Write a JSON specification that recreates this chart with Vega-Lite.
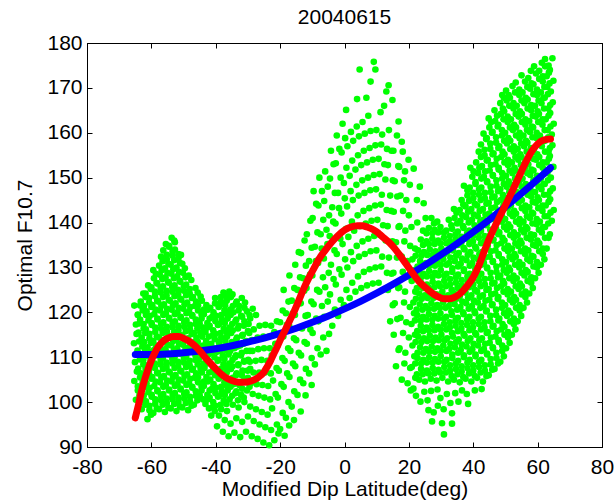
{
"$schema":"https://vega.github.io/schema/vega-lite/v6.json",
"width":515,"height":404,
"autosize":"none",
"padding":{"left":87,"top":43,"right":12,"bottom":53},
"background":"white",
"title":{"text":"20040615","fontSize":21,"font":"Liberation Sans","fontWeight":"normal","color":"black","offset":4},
"config":{"font":"Liberation Sans","view":{"stroke":"black","strokeWidth":1},
"axis":{"grid":false,"domainColor":"black","tickColor":"black","labelColor":"black","titleColor":"black","labelFont":"Liberation Sans","titleFont":"Liberation Sans","labelFontSize":21,"titleFontSize":21,"titleFontWeight":"normal","tickSize":-5,"labelFlush":false,"labelOverlap":false}},
"datasets":{
"pts":[
{"x":-64.8,"y":100.5},{"x":-64.2,"y":102.6},{"x":-65.3,"y":104.7},{"x":-64.5,"y":106.8},{"x":-65.1,"y":108.9},{"x":-64.3,"y":111},{"x":-65.4,"y":113.1},{"x":-64.6,"y":115.2},{"x":-64.8,"y":117.3},{"x":-64.2,"y":119.4},{"x":-65.3,"y":121.5},
{"x":-63,"y":98.4},{"x":-62.4,"y":100.4},{"x":-63.5,"y":102.4},{"x":-62.7,"y":104.4},{"x":-63.3,"y":106.4},{"x":-62.5,"y":108.4},{"x":-63.6,"y":110.4},{"x":-62.8,"y":112.4},{"x":-63,"y":114.4},{"x":-62.4,"y":116.4},{"x":-63.5,"y":118.4},{"x":-62.7,"y":120.4},{"x":-63.3,"y":122.4},{"x":-62.5,"y":124.2},
{"x":-61.2,"y":96.2},{"x":-60.6,"y":98.2},{"x":-61.7,"y":100.2},{"x":-60.9,"y":102.2},{"x":-61.5,"y":104.2},{"x":-60.7,"y":106.2},{"x":-61.8,"y":108.2},{"x":-61,"y":110.2},{"x":-61.2,"y":112.2},{"x":-60.6,"y":114.2},{"x":-61.7,"y":116.2},{"x":-60.9,"y":118.2},{"x":-61.5,"y":120.2},{"x":-60.7,"y":122.2},{"x":-61.8,"y":124.2},{"x":-61,"y":126},
{"x":-59.4,"y":97.6},{"x":-58.8,"y":99.6},{"x":-59.9,"y":101.6},{"x":-59.1,"y":103.6},{"x":-59.7,"y":105.6},{"x":-58.9,"y":107.6},{"x":-60,"y":109.6},{"x":-59.2,"y":111.6},{"x":-59.4,"y":113.6},{"x":-58.8,"y":115.6},{"x":-59.9,"y":117.6},{"x":-59.1,"y":119.6},{"x":-59.7,"y":121.6},{"x":-58.9,"y":123.6},{"x":-60,"y":125.6},{"x":-59.2,"y":127.6},{"x":-59.4,"y":129.4},
{"x":-57.6,"y":98.4},{"x":-57,"y":100.4},{"x":-58.1,"y":102.4},{"x":-57.3,"y":104.4},{"x":-57.9,"y":106.4},{"x":-57.1,"y":108.4},{"x":-58.2,"y":110.4},{"x":-57.4,"y":112.4},{"x":-57.6,"y":114.4},{"x":-57,"y":116.4},{"x":-58.1,"y":118.4},{"x":-57.3,"y":120.4},{"x":-57.9,"y":122.4},{"x":-57.1,"y":124.4},{"x":-58.2,"y":126.4},{"x":-57.4,"y":128.4},{"x":-57.6,"y":130.4},{"x":-57,"y":132.4},
{"x":-55.8,"y":97.8},{"x":-55.2,"y":99.8},{"x":-56.3,"y":101.8},{"x":-55.5,"y":103.8},{"x":-56.1,"y":105.8},{"x":-55.3,"y":107.8},{"x":-56.4,"y":109.8},{"x":-55.6,"y":111.8},{"x":-55.8,"y":113.8},{"x":-55.2,"y":115.8},{"x":-56.3,"y":117.8},{"x":-55.5,"y":119.8},{"x":-56.1,"y":121.8},{"x":-55.3,"y":123.8},{"x":-56.4,"y":125.8},{"x":-55.6,"y":127.8},{"x":-55.8,"y":129.8},{"x":-55.2,"y":131.8},{"x":-56.3,"y":133.8},{"x":-55.5,"y":135.2},
{"x":-54,"y":98.6},{"x":-53.4,"y":100.6},{"x":-54.5,"y":102.6},{"x":-53.7,"y":104.6},{"x":-54.3,"y":106.6},{"x":-53.5,"y":108.6},{"x":-54.6,"y":110.6},{"x":-53.8,"y":112.6},{"x":-54,"y":114.6},{"x":-53.4,"y":116.6},{"x":-54.5,"y":118.6},{"x":-53.7,"y":120.6},{"x":-54.3,"y":122.6},{"x":-53.5,"y":124.6},{"x":-54.6,"y":126.6},{"x":-53.8,"y":128.6},{"x":-54,"y":130.6},{"x":-53.4,"y":132.6},{"x":-54.5,"y":134.6},{"x":-53.7,"y":136.6},
{"x":-52.2,"y":98},{"x":-51.6,"y":100},{"x":-52.7,"y":102},{"x":-51.9,"y":104},{"x":-52.5,"y":106},{"x":-51.7,"y":108},{"x":-52.8,"y":110},{"x":-52,"y":112},{"x":-52.2,"y":114},{"x":-51.6,"y":116},{"x":-52.7,"y":118},{"x":-51.9,"y":120},{"x":-52.5,"y":122},{"x":-51.7,"y":124},{"x":-52.8,"y":126},{"x":-52,"y":128},{"x":-52.2,"y":130},{"x":-51.6,"y":132},{"x":-52.7,"y":134},{"x":-52.9,"y":136},
{"x":-50.4,"y":98.8},{"x":-49.8,"y":100.8},{"x":-50.9,"y":102.8},{"x":-50.1,"y":104.8},{"x":-50.7,"y":106.8},{"x":-49.9,"y":108.8},{"x":-51,"y":110.8},{"x":-50.2,"y":112.8},{"x":-50.4,"y":114.8},{"x":-49.8,"y":116.8},{"x":-50.9,"y":118.8},{"x":-50.1,"y":120.8},{"x":-50.7,"y":122.8},{"x":-49.9,"y":124.8},{"x":-51,"y":126.8},{"x":-50.2,"y":128.8},{"x":-50.4,"y":130.8},{"x":-50.8,"y":132.8},
{"x":-48.6,"y":98.2},{"x":-48,"y":100.2},{"x":-49.1,"y":102.2},{"x":-48.3,"y":104.2},{"x":-48.9,"y":106.2},{"x":-48.1,"y":108.2},{"x":-49.2,"y":110.2},{"x":-48.4,"y":112.2},{"x":-48.6,"y":114.2},{"x":-48,"y":116.2},{"x":-49.1,"y":118.2},{"x":-48.3,"y":120.2},{"x":-48.9,"y":122.2},{"x":-48.1,"y":124.2},{"x":-49.2,"y":126.2},{"x":-48.4,"y":128.2},
{"x":-46.8,"y":99.4},{"x":-46.2,"y":101.4},{"x":-47.3,"y":103.4},{"x":-46.5,"y":105.4},{"x":-47.1,"y":107.4},{"x":-46.3,"y":109.4},{"x":-47.4,"y":111.4},{"x":-46.6,"y":113.4},{"x":-46.8,"y":115.4},{"x":-46.2,"y":117.4},{"x":-47.3,"y":119.4},{"x":-46.5,"y":121.4},{"x":-47.1,"y":123.4},{"x":-46.3,"y":125.4},
{"x":-45,"y":101.5},{"x":-44.4,"y":103.5},{"x":-45.5,"y":105.5},{"x":-44.7,"y":107.5},{"x":-45.3,"y":109.5},{"x":-44.5,"y":111.5},{"x":-45.6,"y":113.5},{"x":-44.8,"y":115.5},{"x":-45,"y":117.5},{"x":-44.4,"y":119.5},{"x":-45.5,"y":121.5},{"x":-44.7,"y":123.5},
{"x":-43.2,"y":99.6},{"x":-42.6,"y":101.6},{"x":-43.7,"y":103.6},{"x":-42.9,"y":105.6},{"x":-43.5,"y":107.6},{"x":-42.7,"y":109.6},{"x":-43.8,"y":111.6},{"x":-43,"y":113.6},{"x":-43.2,"y":115.6},{"x":-42.6,"y":117.6},{"x":-43.7,"y":119.6},{"x":-42.9,"y":121.6},
{"x":-41.4,"y":97},{"x":-40.8,"y":99},{"x":-41.9,"y":101},{"x":-41.1,"y":103},{"x":-41.7,"y":105},{"x":-40.9,"y":107},{"x":-42,"y":109},{"x":-41.2,"y":111},{"x":-41.4,"y":113},{"x":-40.8,"y":115},{"x":-41.9,"y":117},{"x":-41.1,"y":119},{"x":-41.7,"y":121},
{"x":-39.6,"y":94.6},{"x":-39,"y":97},{"x":-40.1,"y":99.2},{"x":-39.3,"y":101.2},{"x":-39.9,"y":103.2},{"x":-39.1,"y":105.2},{"x":-40.2,"y":107.2},{"x":-39.4,"y":109.2},{"x":-39.6,"y":111.2},{"x":-39,"y":113.2},{"x":-40.1,"y":115.2},{"x":-39.3,"y":117.2},{"x":-39.9,"y":119.2},{"x":-39.1,"y":121.2},{"x":-40.2,"y":123.2},
{"x":-37.8,"y":93.4},{"x":-37.2,"y":96},{"x":-38.3,"y":98.4},{"x":-37.5,"y":100.4},{"x":-38.1,"y":102.4},{"x":-37.3,"y":104.4},{"x":-38.4,"y":106.4},{"x":-37.6,"y":108.4},{"x":-37.8,"y":110.4},{"x":-37.2,"y":112.4},{"x":-38.3,"y":114.4},{"x":-37.5,"y":116.4},{"x":-38.1,"y":118.4},{"x":-37.3,"y":120.4},{"x":-38.4,"y":122.4},{"x":-37.6,"y":124.4},
{"x":-36,"y":92.4},{"x":-35.4,"y":95.2},{"x":-36.5,"y":98},{"x":-35.7,"y":100.6},{"x":-36.3,"y":102.6},{"x":-35.5,"y":104.6},{"x":-36.6,"y":106.6},{"x":-35.8,"y":108.6},{"x":-36,"y":110.6},{"x":-35.4,"y":112.6},{"x":-36.5,"y":114.6},{"x":-35.7,"y":116.6},{"x":-36.3,"y":118.6},{"x":-35.5,"y":120.6},{"x":-36.6,"y":122.6},{"x":-35.8,"y":124.6},
{"x":-34.2,"y":93.2},{"x":-33.6,"y":96.4},{"x":-34.7,"y":99.4},{"x":-33.9,"y":102},{"x":-34.5,"y":104},{"x":-33.7,"y":106},{"x":-34.8,"y":108},{"x":-34,"y":110},{"x":-34.2,"y":112},{"x":-33.6,"y":114},{"x":-34.7,"y":116},{"x":-33.9,"y":118},{"x":-34.5,"y":120},{"x":-33.7,"y":122},{"x":-34.8,"y":124},
{"x":-32.4,"y":92.2},{"x":-31.8,"y":95.6},{"x":-32.9,"y":98.8},{"x":-32.1,"y":101.6},{"x":-32.7,"y":103.8},{"x":-31.9,"y":106},{"x":-33,"y":108.2},{"x":-32.2,"y":110.4},{"x":-32.4,"y":112.6},{"x":-31.8,"y":114.8},{"x":-32.9,"y":117},{"x":-32.1,"y":119.2},{"x":-32.7,"y":121.4},{"x":-31.9,"y":123.2},
{"x":-30.6,"y":93.4},{"x":-30,"y":96.8},{"x":-31.1,"y":100},{"x":-30.3,"y":102.6},{"x":-30.9,"y":104.8},{"x":-30.1,"y":107},{"x":-31.2,"y":109.2},{"x":-30.4,"y":111.4},{"x":-30.6,"y":113.6},{"x":-30,"y":115.8},{"x":-31.1,"y":118},{"x":-30.3,"y":120.2},{"x":-30.9,"y":122.2},
{"x":-28.8,"y":92.4},{"x":-28.2,"y":95.8},{"x":-29.3,"y":99},{"x":-28.5,"y":101.8},{"x":-29.1,"y":104.2},{"x":-28.3,"y":106.6},{"x":-29.4,"y":109},{"x":-28.6,"y":111.4},{"x":-28.8,"y":113.8},{"x":-28.2,"y":116.2},{"x":-29.3,"y":118.6},{"x":-28.5,"y":120.8},
{"x":-27,"y":91.8},{"x":-26.4,"y":95},{"x":-27.5,"y":98.4},{"x":-26.7,"y":101.4},{"x":-27.3,"y":104},{"x":-26.5,"y":106.6},{"x":-27.6,"y":109.2},{"x":-26.8,"y":111.8},{"x":-27,"y":114.4},{"x":-26.4,"y":117},{"x":-27.5,"y":119.4},
{"x":-25.2,"y":91},{"x":-24.6,"y":94.4},{"x":-25.7,"y":97.8},{"x":-24.9,"y":101},{"x":-25.5,"y":103.8},{"x":-24.7,"y":106.6},{"x":-25.8,"y":109.4},{"x":-25,"y":112},{"x":-25.2,"y":114.6},{"x":-24.6,"y":117.2},
{"x":-23.4,"y":90.4},{"x":-22.8,"y":93.8},{"x":-23.9,"y":97.2},{"x":-23.1,"y":100.6},{"x":-23.7,"y":103.6},{"x":-22.9,"y":106.4},{"x":-24,"y":109.2},{"x":-23.2,"y":112},{"x":-23.4,"y":114.6},{"x":-22.8,"y":117},
{"x":-21.8,"y":91.5},{"x":-21,"y":95},{"x":-22.5,"y":98.6},{"x":-21.4,"y":101.8},{"x":-22.2,"y":104.8},{"x":-21.1,"y":107.6},{"x":-22.6,"y":110.4},{"x":-21.5,"y":113},{"x":-21.8,"y":115.6},{"x":-21,"y":118},
{"x":-20,"y":94},{"x":-19.2,"y":97.6},{"x":-20.7,"y":101},{"x":-19.6,"y":104},{"x":-20.4,"y":107},{"x":-19.3,"y":109.8},{"x":-20.8,"y":112.6},{"x":-19.7,"y":115.2},{"x":-20,"y":117.8},{"x":-19.2,"y":120.4},
{"x":-18.2,"y":96.5},{"x":-17.4,"y":100},{"x":-18.9,"y":103.4},{"x":-17.8,"y":106.4},{"x":-18.6,"y":109.2},{"x":-17.5,"y":112},{"x":-19,"y":114.6},{"x":-17.9,"y":117.2},{"x":-18.2,"y":119.8},{"x":-17.4,"y":122.4},{"x":-18.9,"y":125},
{"x":-16.4,"y":99},{"x":-15.6,"y":102.4},{"x":-17.1,"y":105.6},{"x":-16,"y":108.6},{"x":-16.8,"y":111.4},{"x":-15.7,"y":114.2},{"x":-17.2,"y":117},{"x":-16.1,"y":119.8},{"x":-16.4,"y":122.6},{"x":-15.6,"y":125.4},{"x":-17.1,"y":128.2},
{"x":-14.6,"y":101.6},{"x":-13.8,"y":105},{"x":-15.3,"y":108},{"x":-14.2,"y":111},{"x":-15,"y":113.8},{"x":-13.9,"y":116.6},{"x":-15.4,"y":119.4},{"x":-14.3,"y":122.2},{"x":-14.6,"y":125},{"x":-13.8,"y":127.8},{"x":-15.3,"y":130.6},{"x":-14.2,"y":133.4},
{"x":-12.8,"y":104.2},{"x":-12,"y":107.4},{"x":-13.5,"y":110.4},{"x":-12.4,"y":113.4},{"x":-13.2,"y":116.4},{"x":-12.1,"y":119.2},{"x":-13.6,"y":122},{"x":-12.5,"y":124.8},{"x":-12.8,"y":127.6},{"x":-12,"y":130.4},{"x":-13.5,"y":133.2},{"x":-12.4,"y":136},
{"x":-11,"y":106.4},{"x":-10.2,"y":109.8},{"x":-11.7,"y":113},{"x":-10.6,"y":116.2},{"x":-11.4,"y":119.4},{"x":-10.3,"y":122.4},{"x":-11.8,"y":125.4},{"x":-10.7,"y":128.4},{"x":-11,"y":131.4},{"x":-10.2,"y":134.4},{"x":-11.7,"y":137.4},{"x":-10.6,"y":140.4},
{"x":-9.2,"y":108.4},{"x":-8.4,"y":112},{"x":-9.9,"y":115.4},{"x":-8.8,"y":118.6},{"x":-9.6,"y":121.8},{"x":-8.5,"y":125},{"x":-10,"y":128.2},{"x":-8.9,"y":131.4},{"x":-9.2,"y":134.6},{"x":-8.4,"y":137.8},{"x":-9.9,"y":141},{"x":-8.8,"y":144.2},{"x":-9.6,"y":147},
{"x":-7.4,"y":110.6},{"x":-6.6,"y":114.4},{"x":-8.1,"y":118},{"x":-7,"y":121.4},{"x":-7.8,"y":124.6},{"x":-6.7,"y":127.8},{"x":-8.2,"y":131},{"x":-7.1,"y":134.2},{"x":-7.4,"y":137.4},{"x":-6.6,"y":140.6},{"x":-8.1,"y":143.8},{"x":-7,"y":147},{"x":-7.8,"y":150},
{"x":-5.6,"y":111.4},{"x":-4.8,"y":115.2},{"x":-6.3,"y":119},{"x":-5.2,"y":122.4},{"x":-6,"y":125.6},{"x":-4.9,"y":128.8},{"x":-6.4,"y":132},{"x":-5.3,"y":135.2},{"x":-5.6,"y":138.4},{"x":-4.8,"y":141.6},{"x":-6.3,"y":144.8},{"x":-5.2,"y":148},{"x":-6,"y":151.4},
{"x":-3.8,"y":117},{"x":-3,"y":120.6},{"x":-4.5,"y":124},{"x":-3.4,"y":127.4},{"x":-4.2,"y":130.6},{"x":-3.1,"y":133.8},{"x":-4.6,"y":137},{"x":-3.5,"y":140.2},{"x":-3.8,"y":143.4},{"x":-3,"y":146.6},{"x":-4.5,"y":149.8},{"x":-3.4,"y":153},{"x":-4.2,"y":156},
{"x":-2,"y":119.2},{"x":-1.2,"y":122.8},{"x":-2.7,"y":126.2},{"x":-1.6,"y":129.6},{"x":-2.4,"y":133},{"x":-1.3,"y":136.4},{"x":-2.8,"y":139.8},{"x":-1.7,"y":143.2},{"x":-2,"y":146.6},{"x":-1.2,"y":150},{"x":-2.7,"y":153.2},{"x":-1.6,"y":156.4},{"x":-2.4,"y":159.4},
{"x":-0.2,"y":121.6},{"x":0.6,"y":125},{"x":-0.9,"y":128.4},{"x":0.2,"y":131.8},{"x":-0.6,"y":135.2},{"x":0.5,"y":138.6},{"x":-1,"y":142},{"x":0.1,"y":145.4},{"x":-0.2,"y":148.8},{"x":0.6,"y":152.2},{"x":-0.9,"y":155.6},{"x":0.2,"y":158.8},{"x":-0.6,"y":162},{"x":0.5,"y":165.1},
{"x":1.6,"y":123.2},{"x":2.4,"y":126.6},{"x":0.9,"y":130},{"x":2,"y":133.4},{"x":1.2,"y":136.8},{"x":2.3,"y":140.2},{"x":0.8,"y":143.6},{"x":1.9,"y":147},{"x":1.6,"y":150.4},{"x":2.4,"y":153.8},{"x":0.9,"y":157},{"x":2,"y":160.2},
{"x":3.4,"y":124.6},{"x":4.2,"y":128},{"x":2.7,"y":131.4},{"x":3.8,"y":134.8},{"x":3,"y":138.2},{"x":4.1,"y":141.6},{"x":2.6,"y":145},{"x":3.7,"y":148.4},{"x":3.4,"y":151.8},{"x":4.2,"y":155},{"x":2.7,"y":158.2},{"x":3.8,"y":161.4},{"x":3.9,"y":167.5},
{"x":5.2,"y":125.4},{"x":6,"y":129},{"x":4.5,"y":132.4},{"x":5.6,"y":135.8},{"x":4.8,"y":139.2},{"x":5.9,"y":142.6},{"x":4.4,"y":146},{"x":5.5,"y":149.4},{"x":5.2,"y":152.8},{"x":6,"y":156},{"x":4.5,"y":159.2},{"x":5.6,"y":162.4},{"x":4.7,"y":174.1},
{"x":7,"y":126},{"x":7.8,"y":129.6},{"x":6.3,"y":133},{"x":7.4,"y":136.4},{"x":6.6,"y":139.8},{"x":7.7,"y":143.2},{"x":6.2,"y":146.6},{"x":7.3,"y":150},{"x":7,"y":153.4},{"x":7.8,"y":156.6},{"x":6.3,"y":159.8},{"x":7.4,"y":163.8},{"x":6.8,"y":167.8},
{"x":8.8,"y":126.4},{"x":9.6,"y":130},{"x":8.1,"y":133.6},{"x":9.2,"y":137},{"x":8.4,"y":140.4},{"x":9.5,"y":143.8},{"x":8,"y":147.2},{"x":9.1,"y":150.6},{"x":8.8,"y":154},{"x":9.6,"y":157.2},{"x":8.1,"y":160.4},{"x":8.1,"y":171.4},{"x":9.6,"y":174.1},{"x":9.1,"y":175.8},
{"x":10.6,"y":126.6},{"x":11.4,"y":130.2},{"x":9.9,"y":133.8},{"x":11,"y":137.2},{"x":10.2,"y":140.6},{"x":11.3,"y":144},{"x":9.8,"y":147.4},{"x":10.9,"y":150.8},{"x":10.6,"y":154.2},{"x":11.4,"y":157.4},{"x":9.9,"y":160.6},{"x":11.2,"y":164.6},
{"x":12.4,"y":125.2},{"x":13.2,"y":128.8},{"x":11.7,"y":132.4},{"x":12.8,"y":136},{"x":12,"y":139.4},{"x":13.1,"y":142.8},{"x":11.6,"y":146.2},{"x":12.7,"y":149.6},{"x":12.4,"y":153},{"x":13.2,"y":156.4},{"x":11.7,"y":159.6},{"x":12.3,"y":166},{"x":13,"y":169.2},
{"x":14.2,"y":118},{"x":15,"y":121.6},{"x":13.5,"y":125},{"x":14.6,"y":128.6},{"x":13.8,"y":132.2},{"x":14.9,"y":135.8},{"x":13.4,"y":139.2},{"x":14.5,"y":142.6},{"x":14.2,"y":146},{"x":15,"y":149.4},{"x":13.5,"y":152.8},{"x":14.6,"y":156},{"x":13.8,"y":160.6},{"x":14.9,"y":167.3},{"x":13.7,"y":170.6},
{"x":16,"y":108},{"x":16.8,"y":111.6},{"x":15.3,"y":115},{"x":16.4,"y":118.5},{"x":15.6,"y":122},{"x":16.7,"y":125.4},{"x":15.2,"y":128.8},{"x":16.3,"y":132.2},{"x":16,"y":135.6},{"x":16.8,"y":139},{"x":15.3,"y":142.4},{"x":16.4,"y":145.8},{"x":15.6,"y":149.2},{"x":16.7,"y":152.6},{"x":15.2,"y":156},{"x":16.3,"y":159.4},{"x":16.8,"y":162.5},
{"x":17.8,"y":105},{"x":18.6,"y":108.6},{"x":17.1,"y":112},{"x":18.2,"y":115.4},{"x":17.4,"y":118.8},{"x":18.5,"y":122.2},{"x":17,"y":125.6},{"x":18.1,"y":129},{"x":17.8,"y":132.4},{"x":18.6,"y":135.8},{"x":17.1,"y":139.2},{"x":18.2,"y":142.6},{"x":17.4,"y":146},{"x":18.5,"y":149.4},{"x":17,"y":152.4},{"x":18.1,"y":155.8},{"x":17.8,"y":158},
{"x":19.6,"y":104.2},{"x":20.4,"y":107.6},{"x":18.9,"y":111},{"x":20,"y":114.4},{"x":19.2,"y":117.8},{"x":20.3,"y":121.2},{"x":18.8,"y":124.6},{"x":19.9,"y":128},{"x":19.6,"y":131.4},{"x":20.4,"y":134.8},{"x":18.9,"y":138.2},{"x":20,"y":141.6},{"x":19.2,"y":145},{"x":20.3,"y":148.4},{"x":18.8,"y":151.4},{"x":19.9,"y":154},
{"x":-20.5,"y":93},{"x":-18.6,"y":92.5},{"x":-17.2,"y":94.8},{"x":-13.6,"y":97.9},{"x":-15.7,"y":96},{"x":-12.1,"y":101.5},{"x":-10.2,"y":103.8},
{"x":21.4,"y":103},{"x":22,"y":105.4},{"x":20.9,"y":107.8},{"x":21.7,"y":110.2},{"x":21.1,"y":112.6},{"x":21.9,"y":115},{"x":20.8,"y":117.4},{"x":21.6,"y":119.8},{"x":21.4,"y":122.2},{"x":22,"y":124.6},{"x":20.9,"y":127},{"x":21.7,"y":129.4},{"x":21.1,"y":131.8},{"x":21.9,"y":134.2},{"x":20.8,"y":139},{"x":22.5,"y":145},{"x":21.5,"y":152},
{"x":23.2,"y":105},{"x":23.8,"y":107.4},{"x":22.7,"y":109.8},{"x":23.5,"y":112.2},{"x":22.9,"y":114.6},{"x":23.7,"y":117},{"x":22.6,"y":119.4},{"x":23.4,"y":121.8},{"x":23.2,"y":124.2},{"x":23.8,"y":126.6},{"x":22.7,"y":129},{"x":23.5,"y":131.4},{"x":22.9,"y":133.8},{"x":23.7,"y":136.2},{"x":22.6,"y":140},{"x":23.4,"y":148},
{"x":25,"y":104.6},{"x":25.6,"y":107},{"x":24.5,"y":109.4},{"x":25.3,"y":111.8},{"x":24.7,"y":114.2},{"x":25.5,"y":116.6},{"x":24.4,"y":119},{"x":25.2,"y":121.4},{"x":25,"y":123.8},{"x":25.6,"y":126.2},{"x":24.5,"y":128.6},{"x":25.3,"y":131},{"x":24.7,"y":133.4},{"x":25.5,"y":135.8},{"x":24.4,"y":138.2},{"x":25.2,"y":141},{"x":24.6,"y":144.3},
{"x":26.8,"y":105.2},{"x":27.4,"y":107.6},{"x":26.3,"y":110},{"x":27.1,"y":112.4},{"x":26.5,"y":114.8},{"x":27.3,"y":117.2},{"x":26.2,"y":119.6},{"x":27,"y":122},{"x":26.8,"y":124.4},{"x":27.4,"y":126.8},{"x":26.3,"y":129.2},{"x":27.1,"y":131.6},{"x":26.5,"y":134},{"x":27.3,"y":136.4},{"x":26.2,"y":138.8},{"x":27,"y":141},
{"x":28.6,"y":104.8},{"x":29.2,"y":107.2},{"x":28.1,"y":109.6},{"x":28.9,"y":112},{"x":28.3,"y":114.4},{"x":29.1,"y":116.8},{"x":28,"y":119.2},{"x":28.8,"y":121.6},{"x":28.6,"y":124},{"x":29.2,"y":126.4},{"x":28.1,"y":128.8},{"x":28.9,"y":131.2},{"x":28.3,"y":133.6},{"x":29.1,"y":136},{"x":28,"y":138.4},{"x":28.8,"y":140.2},
{"x":30.4,"y":105.4},{"x":31,"y":107.8},{"x":29.9,"y":110.2},{"x":30.7,"y":112.6},{"x":30.1,"y":115},{"x":30.9,"y":117.4},{"x":29.8,"y":119.8},{"x":30.6,"y":122.2},{"x":30.4,"y":124.6},{"x":31,"y":127},{"x":29.9,"y":129.4},{"x":30.7,"y":131.8},{"x":30.1,"y":134.2},{"x":30.9,"y":136.6},{"x":29.8,"y":139},
{"x":32.2,"y":104.6},{"x":32.8,"y":107},{"x":31.7,"y":109.4},{"x":32.5,"y":111.8},{"x":31.9,"y":114.2},{"x":32.7,"y":116.6},{"x":31.6,"y":119},{"x":32.4,"y":121.4},{"x":32.2,"y":123.8},{"x":32.8,"y":126.2},{"x":31.7,"y":128.6},{"x":32.5,"y":131},{"x":31.9,"y":133.4},{"x":32.7,"y":135.8},{"x":31.6,"y":138.2},{"x":32.4,"y":140.6},
{"x":34,"y":105},{"x":34.6,"y":107.4},{"x":33.5,"y":109.8},{"x":34.3,"y":112.2},{"x":33.7,"y":114.6},{"x":34.5,"y":117},{"x":33.4,"y":119.4},{"x":34.2,"y":121.8},{"x":34,"y":124.2},{"x":34.6,"y":126.6},{"x":33.5,"y":129},{"x":34.3,"y":131.4},{"x":33.7,"y":133.8},{"x":34.5,"y":136.2},{"x":33.4,"y":138.6},{"x":34.2,"y":141},{"x":34,"y":143},
{"x":35.8,"y":104.4},{"x":36.4,"y":106.8},{"x":35.3,"y":109.2},{"x":36.1,"y":111.6},{"x":35.5,"y":114},{"x":36.3,"y":116.4},{"x":35.2,"y":118.8},{"x":36,"y":121.2},{"x":35.8,"y":123.6},{"x":36.4,"y":126},{"x":35.3,"y":128.4},{"x":36.1,"y":130.8},{"x":35.5,"y":133.2},{"x":36.3,"y":135.6},{"x":35.2,"y":138},{"x":36,"y":140.4},{"x":35.8,"y":142.8},{"x":36.4,"y":145},
{"x":37.6,"y":105.2},{"x":38.2,"y":107.6},{"x":37.1,"y":110},{"x":37.9,"y":112.4},{"x":37.3,"y":114.8},{"x":38.1,"y":117.2},{"x":37,"y":119.6},{"x":37.8,"y":122},{"x":37.6,"y":124.4},{"x":38.2,"y":126.8},{"x":37.1,"y":129.2},{"x":37.9,"y":131.6},{"x":37.3,"y":134},{"x":38.1,"y":136.4},{"x":37,"y":138.8},{"x":37.8,"y":141.2},{"x":37.6,"y":143.6},{"x":38.2,"y":146},{"x":37.1,"y":148.2},
{"x":39.4,"y":104.6},{"x":40,"y":107},{"x":38.9,"y":109.4},{"x":39.7,"y":111.8},{"x":39.1,"y":114.2},{"x":39.9,"y":116.6},{"x":38.8,"y":119},{"x":39.6,"y":121.4},{"x":39.4,"y":123.8},{"x":40,"y":126.2},{"x":38.9,"y":128.6},{"x":39.7,"y":131},{"x":39.1,"y":133.4},{"x":39.9,"y":135.8},{"x":38.8,"y":138.2},{"x":39.6,"y":140.6},{"x":39.4,"y":143},{"x":40,"y":145.4},{"x":38.9,"y":147.8},{"x":39.7,"y":150.2},{"x":39.1,"y":152.2},
{"x":41.2,"y":105.4},{"x":41.8,"y":107.8},{"x":40.7,"y":110.2},{"x":41.5,"y":112.6},{"x":40.9,"y":115},{"x":41.7,"y":117.4},{"x":40.6,"y":119.8},{"x":41.4,"y":122.2},{"x":41.2,"y":124.6},{"x":41.8,"y":127},{"x":40.7,"y":129.4},{"x":41.5,"y":131.8},{"x":40.9,"y":134.2},{"x":41.7,"y":136.6},{"x":40.6,"y":139},{"x":41.4,"y":141.4},{"x":41.2,"y":143.8},{"x":41.8,"y":146.2},{"x":40.7,"y":148.6},{"x":41.5,"y":151},{"x":40.9,"y":153.4},{"x":41.7,"y":155.8},
{"x":43,"y":104.6},{"x":43.6,"y":107},{"x":42.5,"y":109.4},{"x":43.3,"y":111.8},{"x":42.7,"y":114.2},{"x":43.5,"y":116.6},{"x":42.4,"y":119},{"x":43.2,"y":121.4},{"x":43,"y":123.8},{"x":43.6,"y":126.2},{"x":42.5,"y":128.6},{"x":43.3,"y":131},{"x":42.7,"y":133.4},{"x":43.5,"y":135.8},{"x":42.4,"y":138.2},{"x":43.2,"y":140.6},{"x":43,"y":143},{"x":43.6,"y":145.4},{"x":42.5,"y":147.8},{"x":43.3,"y":150.2},{"x":42.7,"y":152.6},{"x":43.5,"y":155},{"x":42.4,"y":157.4},{"x":43.2,"y":159.8},
{"x":44.8,"y":106},{"x":45.4,"y":108.4},{"x":44.3,"y":110.8},{"x":45.1,"y":113.2},{"x":44.5,"y":115.6},{"x":45.3,"y":118},{"x":44.2,"y":120.4},{"x":45,"y":122.8},{"x":44.8,"y":125.2},{"x":45.4,"y":127.6},{"x":44.3,"y":130},{"x":45.1,"y":132.4},{"x":44.5,"y":134.8},{"x":45.3,"y":137.2},{"x":44.2,"y":139.6},{"x":45,"y":142},{"x":44.8,"y":144.4},{"x":45.4,"y":146.8},{"x":44.3,"y":149.2},{"x":45.1,"y":151.6},{"x":44.5,"y":154},{"x":45.3,"y":156.4},{"x":44.2,"y":158.8},{"x":45,"y":161.2},{"x":44.8,"y":163.2},
{"x":46.6,"y":107.4},{"x":47.2,"y":109.8},{"x":46.1,"y":112.2},{"x":46.9,"y":114.6},{"x":46.3,"y":117},{"x":47.1,"y":119.4},{"x":46,"y":121.8},{"x":46.8,"y":124.2},{"x":46.6,"y":126.6},{"x":47.2,"y":129},{"x":46.1,"y":131.4},{"x":46.9,"y":133.8},{"x":46.3,"y":136.2},{"x":47.1,"y":138.6},{"x":46,"y":141},{"x":46.8,"y":143.4},{"x":46.6,"y":145.8},{"x":47.2,"y":148.2},{"x":46.1,"y":150.6},{"x":46.9,"y":153},{"x":46.3,"y":155.4},{"x":47.1,"y":157.8},{"x":46,"y":160.2},{"x":46.8,"y":162.6},{"x":46.6,"y":165},
{"x":48.4,"y":109},{"x":49,"y":111.4},{"x":47.9,"y":113.8},{"x":48.7,"y":116.2},{"x":48.1,"y":118.6},{"x":48.9,"y":121},{"x":47.8,"y":123.4},{"x":48.6,"y":125.8},{"x":48.4,"y":128.2},{"x":49,"y":130.6},{"x":47.9,"y":133},{"x":48.7,"y":135.4},{"x":48.1,"y":137.8},{"x":48.9,"y":140.2},{"x":47.8,"y":142.6},{"x":48.6,"y":145},{"x":48.4,"y":147.4},{"x":49,"y":149.8},{"x":47.9,"y":152.2},{"x":48.7,"y":154.6},{"x":48.1,"y":157},{"x":48.9,"y":159.4},{"x":47.8,"y":161.8},{"x":48.6,"y":164.2},{"x":48.4,"y":166.6},{"x":49,"y":168.4},
{"x":50.2,"y":112},{"x":50.8,"y":114.4},{"x":49.7,"y":116.8},{"x":50.5,"y":119.2},{"x":49.9,"y":121.6},{"x":50.7,"y":124},{"x":49.6,"y":126.4},{"x":50.4,"y":128.8},{"x":50.2,"y":131.2},{"x":50.8,"y":133.6},{"x":49.7,"y":136},{"x":50.5,"y":138.4},{"x":49.9,"y":140.8},{"x":50.7,"y":143.2},{"x":49.6,"y":145.6},{"x":50.4,"y":148},{"x":50.2,"y":150.4},{"x":50.8,"y":152.8},{"x":49.7,"y":155.2},{"x":50.5,"y":157.6},{"x":49.9,"y":160},{"x":50.7,"y":162.4},{"x":49.6,"y":164.8},{"x":50.4,"y":167.2},{"x":50.2,"y":169.4},
{"x":52,"y":115},{"x":52.6,"y":117.4},{"x":51.5,"y":119.8},{"x":52.3,"y":122.2},{"x":51.7,"y":124.6},{"x":52.5,"y":127},{"x":51.4,"y":129.4},{"x":52.2,"y":131.8},{"x":52,"y":134.2},{"x":52.6,"y":136.6},{"x":51.5,"y":139},{"x":52.3,"y":141.4},{"x":51.7,"y":143.8},{"x":52.5,"y":146.2},{"x":51.4,"y":148.6},{"x":52.2,"y":151},{"x":52,"y":153.4},{"x":52.6,"y":155.8},{"x":51.5,"y":158.2},{"x":52.3,"y":160.6},{"x":51.7,"y":163},{"x":52.5,"y":165.4},{"x":51.4,"y":167.8},{"x":52.2,"y":170.4},
{"x":53.8,"y":118},{"x":54.4,"y":120.4},{"x":53.3,"y":122.8},{"x":54.1,"y":125.2},{"x":53.5,"y":127.6},{"x":54.3,"y":130},{"x":53.2,"y":132.4},{"x":54,"y":134.8},{"x":53.8,"y":137.2},{"x":54.4,"y":139.6},{"x":53.3,"y":142},{"x":54.1,"y":144.4},{"x":53.5,"y":146.8},{"x":54.3,"y":149.2},{"x":53.2,"y":151.6},{"x":54,"y":154},{"x":53.8,"y":156.4},{"x":54.4,"y":158.8},{"x":53.3,"y":161.2},{"x":54.1,"y":163.6},{"x":53.5,"y":166},{"x":54.3,"y":168.4},{"x":53.2,"y":171.2},
{"x":55.6,"y":121},{"x":56.2,"y":123.4},{"x":55.1,"y":125.8},{"x":55.9,"y":128.2},{"x":55.3,"y":130.6},{"x":56.1,"y":133},{"x":55,"y":135.4},{"x":55.8,"y":137.8},{"x":55.6,"y":140.2},{"x":56.2,"y":142.6},{"x":55.1,"y":145},{"x":55.9,"y":147.4},{"x":55.3,"y":149.8},{"x":56.1,"y":152.2},{"x":55,"y":154.6},{"x":55.8,"y":157},{"x":55.6,"y":159.4},{"x":56.2,"y":161.8},{"x":55.1,"y":164.2},{"x":55.9,"y":166.6},{"x":55.3,"y":169},{"x":56.1,"y":171.4},{"x":55,"y":172.8},
{"x":57.4,"y":124.2},{"x":58,"y":126.6},{"x":56.9,"y":129},{"x":57.7,"y":131.4},{"x":57.1,"y":133.8},{"x":57.9,"y":136.2},{"x":56.8,"y":138.6},{"x":57.6,"y":141},{"x":57.4,"y":143.4},{"x":58,"y":145.8},{"x":56.9,"y":148.2},{"x":57.7,"y":150.6},{"x":57.1,"y":153},{"x":57.9,"y":155.4},{"x":56.8,"y":157.8},{"x":57.6,"y":160.2},{"x":57.4,"y":162.6},{"x":58,"y":165},{"x":56.9,"y":167.4},{"x":57.7,"y":169.8},{"x":57.1,"y":172.2},{"x":57.9,"y":173.8},
{"x":59.2,"y":127.6},{"x":59.8,"y":130},{"x":58.7,"y":132.4},{"x":59.5,"y":134.8},{"x":58.9,"y":137.2},{"x":59.7,"y":139.6},{"x":58.6,"y":142},{"x":59.4,"y":144.4},{"x":59.2,"y":146.8},{"x":59.8,"y":149.2},{"x":58.7,"y":151.6},{"x":59.5,"y":154},{"x":58.9,"y":156.4},{"x":59.7,"y":158.8},{"x":58.6,"y":161.2},{"x":59.4,"y":163.6},{"x":59.2,"y":166},{"x":59.8,"y":168.4},{"x":58.7,"y":170.8},{"x":59.5,"y":173.2},{"x":58.9,"y":174.8},
{"x":61,"y":130.6},{"x":61.6,"y":133},{"x":60.5,"y":135.4},{"x":61.3,"y":137.8},{"x":60.7,"y":140.2},{"x":61.5,"y":142.6},{"x":60.4,"y":145},{"x":61.2,"y":147.4},{"x":61,"y":149.8},{"x":61.6,"y":152.2},{"x":60.5,"y":154.6},{"x":61.3,"y":157},{"x":60.7,"y":159.4},{"x":61.5,"y":161.8},{"x":60.4,"y":164.2},{"x":61.2,"y":166.6},{"x":61,"y":169},{"x":61.6,"y":171.4},{"x":60.5,"y":173.8},{"x":61.3,"y":175.6},
{"x":62.8,"y":134.2},{"x":63.4,"y":136.6},{"x":62.3,"y":139},{"x":63.1,"y":141.4},{"x":62.5,"y":143.8},{"x":63.3,"y":146.2},{"x":62.2,"y":148.6},{"x":63,"y":151},{"x":62.8,"y":153.4},{"x":63.4,"y":155.8},{"x":62.3,"y":158.2},{"x":63.1,"y":160.6},{"x":62.5,"y":163},{"x":63.3,"y":165.4},{"x":62.2,"y":167.8},{"x":63,"y":170.2},{"x":62.8,"y":172.6},{"x":63.4,"y":175},{"x":62.3,"y":176.4},
{"x":64.4,"y":140.4},{"x":65,"y":142.8},{"x":63.9,"y":145.2},{"x":64.7,"y":147.6},{"x":64.1,"y":150},{"x":64.9,"y":152.4},{"x":63.8,"y":154.8},{"x":64.6,"y":157.2},{"x":64.4,"y":159.6},{"x":65,"y":162},{"x":63.9,"y":164.4},{"x":64.7,"y":166.8},{"x":64.1,"y":169.2},{"x":64.9,"y":171.6},{"x":63.8,"y":174},{"x":64.6,"y":176.6},
{"x":23.6,"y":100.1},{"x":22.2,"y":101.4},{"x":24.8,"y":102.3},{"x":28.9,"y":102.8},{"x":29.8,"y":100.9},{"x":34.4,"y":102},{"x":38,"y":101.8},{"x":32.9,"y":99.8},{"x":35.4,"y":100.1},{"x":30.8,"y":98.4},{"x":27.7,"y":97.7},{"x":33.4,"y":97.5},{"x":27.2,"y":95.7},{"x":30.3,"y":95.3},{"x":30.9,"y":92.8},{"x":33.4,"y":95.2},{"x":40.5,"y":102.6},{"x":25.8,"y":100.4},{"x":26.1,"y":98.2},{"x":29,"y":99.2},{"x":31.8,"y":101.8},{"x":36.5,"y":102.6},{"x":38.4,"y":99.6},{"x":42.6,"y":102.9},{"x":26.9,"y":102.5},{"x":20.6,"y":102.6},
{"x":-63.7,"y":101.5},{"x":-64.2,"y":103.5},{"x":-63.5,"y":105.5},{"x":-64.1,"y":107.5},{"x":-63.6,"y":109.5},{"x":-64.3,"y":111.5},{"x":-63.8,"y":113.5},{"x":-64,"y":115.5},{"x":-63.7,"y":117.5},{"x":-64.2,"y":119.5},{"x":-63.5,"y":121.5},
{"x":-61.9,"y":99.4},{"x":-62.4,"y":101.4},{"x":-61.7,"y":103.4},{"x":-62.3,"y":105.4},{"x":-61.8,"y":107.4},{"x":-62.5,"y":109.4},{"x":-62,"y":111.4},{"x":-62.2,"y":113.4},{"x":-61.9,"y":115.4},{"x":-62.4,"y":117.4},{"x":-61.7,"y":119.4},{"x":-62.3,"y":121.4},{"x":-61.8,"y":123.4},
{"x":-60.1,"y":97.2},{"x":-60.6,"y":99.2},{"x":-59.9,"y":101.2},{"x":-60.5,"y":103.2},{"x":-60,"y":105.2},{"x":-60.7,"y":107.2},{"x":-60.2,"y":109.2},{"x":-60.4,"y":111.2},{"x":-60.1,"y":113.2},{"x":-60.6,"y":115.2},{"x":-59.9,"y":117.2},{"x":-60.5,"y":119.2},{"x":-60,"y":121.2},{"x":-60.7,"y":123.2},{"x":-60.2,"y":125.2},
{"x":-58.3,"y":98.6},{"x":-58.8,"y":100.6},{"x":-58.1,"y":102.6},{"x":-58.7,"y":104.6},{"x":-58.2,"y":106.6},{"x":-58.9,"y":108.6},{"x":-58.4,"y":110.6},{"x":-58.6,"y":112.6},{"x":-58.3,"y":114.6},{"x":-58.8,"y":116.6},{"x":-58.1,"y":118.6},{"x":-58.7,"y":120.6},{"x":-58.2,"y":122.6},{"x":-58.9,"y":124.6},{"x":-58.4,"y":126.6},{"x":-58.6,"y":128.6},
{"x":-56.5,"y":99.4},{"x":-57,"y":101.4},{"x":-56.3,"y":103.4},{"x":-56.9,"y":105.4},{"x":-56.4,"y":107.4},{"x":-57.1,"y":109.4},{"x":-56.6,"y":111.4},{"x":-56.8,"y":113.4},{"x":-56.5,"y":115.4},{"x":-57,"y":117.4},{"x":-56.3,"y":119.4},{"x":-56.9,"y":121.4},{"x":-56.4,"y":123.4},{"x":-57.1,"y":125.4},{"x":-56.6,"y":127.4},{"x":-56.8,"y":129.4},{"x":-56.5,"y":131.4},
{"x":-54.7,"y":98.8},{"x":-55.2,"y":100.8},{"x":-54.5,"y":102.8},{"x":-55.1,"y":104.8},{"x":-54.6,"y":106.8},{"x":-55.3,"y":108.8},{"x":-54.8,"y":110.8},{"x":-55,"y":112.8},{"x":-54.7,"y":114.8},{"x":-55.2,"y":116.8},{"x":-54.5,"y":118.8},{"x":-55.1,"y":120.8},{"x":-54.6,"y":122.8},{"x":-55.3,"y":124.8},{"x":-54.8,"y":126.8},{"x":-55,"y":128.8},{"x":-54.7,"y":130.8},{"x":-55.2,"y":132.8},{"x":-54.5,"y":134.8},
{"x":-52.9,"y":99.6},{"x":-53.4,"y":101.6},{"x":-52.7,"y":103.6},{"x":-53.3,"y":105.6},{"x":-52.8,"y":107.6},{"x":-53.5,"y":109.6},{"x":-53,"y":111.6},{"x":-53.2,"y":113.6},{"x":-52.9,"y":115.6},{"x":-53.4,"y":117.6},{"x":-52.7,"y":119.6},{"x":-53.3,"y":121.6},{"x":-52.8,"y":123.6},{"x":-53.5,"y":125.6},{"x":-53,"y":127.6},{"x":-53.2,"y":129.6},{"x":-52.9,"y":131.6},{"x":-53.4,"y":133.6},{"x":-52.7,"y":135.6},
{"x":-51.1,"y":99},{"x":-51.6,"y":101},{"x":-50.9,"y":103},{"x":-51.5,"y":105},{"x":-51,"y":107},{"x":-51.7,"y":109},{"x":-51.2,"y":111},{"x":-51.4,"y":113},{"x":-51.1,"y":115},{"x":-51.6,"y":117},{"x":-50.9,"y":119},{"x":-51.5,"y":121},{"x":-51,"y":123},{"x":-51.7,"y":125},{"x":-51.2,"y":127},{"x":-51.4,"y":129},{"x":-51.1,"y":131},{"x":-51.6,"y":133},
{"x":-49.3,"y":99.8},{"x":-49.8,"y":101.8},{"x":-49.1,"y":103.8},{"x":-49.7,"y":105.8},{"x":-49.2,"y":107.8},{"x":-49.9,"y":109.8},{"x":-49.4,"y":111.8},{"x":-49.6,"y":113.8},{"x":-49.3,"y":115.8},{"x":-49.8,"y":117.8},{"x":-49.1,"y":119.8},{"x":-49.7,"y":121.8},{"x":-49.2,"y":123.8},{"x":-49.9,"y":125.8},{"x":-49.4,"y":127.8},{"x":-49.6,"y":129.8},
{"x":-47.5,"y":99.2},{"x":-48,"y":101.2},{"x":-47.3,"y":103.2},{"x":-47.9,"y":105.2},{"x":-47.4,"y":107.2},{"x":-48.1,"y":109.2},{"x":-47.6,"y":111.2},{"x":-47.8,"y":113.2},{"x":-47.5,"y":115.2},{"x":-48,"y":117.2},{"x":-47.3,"y":119.2},{"x":-47.9,"y":121.2},{"x":-47.4,"y":123.2},{"x":-48.1,"y":125.2},{"x":-47.6,"y":127.2},
{"x":-45.7,"y":100.4},{"x":-46.2,"y":102.4},{"x":-45.5,"y":104.4},{"x":-46.1,"y":106.4},{"x":-45.6,"y":108.4},{"x":-46.3,"y":110.4},{"x":-45.8,"y":112.4},{"x":-46,"y":114.4},{"x":-45.7,"y":116.4},{"x":-46.2,"y":118.4},{"x":-45.5,"y":120.4},{"x":-46.1,"y":122.4},{"x":-45.6,"y":124.4},
{"x":-43.9,"y":100.6},{"x":-44.4,"y":102.6},{"x":-43.7,"y":104.6},{"x":-44.3,"y":106.6},{"x":-43.8,"y":108.6},{"x":-44.5,"y":110.6},{"x":-44,"y":112.6},{"x":-44.2,"y":114.6},{"x":-43.9,"y":116.6},{"x":-44.4,"y":118.6},{"x":-43.7,"y":120.6},{"x":-44.3,"y":122.6},
{"x":-42.1,"y":98.6},{"x":-42.6,"y":100.6},{"x":-41.9,"y":102.6},{"x":-42.5,"y":104.6},{"x":-42,"y":106.6},{"x":-42.7,"y":108.6},{"x":-42.2,"y":110.6},{"x":-42.4,"y":112.6},{"x":-42.1,"y":114.6},{"x":-42.6,"y":116.6},{"x":-41.9,"y":118.6},{"x":-42.5,"y":120.6},
{"x":-40.3,"y":98},{"x":-40.8,"y":100},{"x":-40.1,"y":102},{"x":-40.7,"y":104},{"x":-40.2,"y":106},{"x":-40.9,"y":108},{"x":-40.4,"y":110},{"x":-40.6,"y":112},{"x":-40.3,"y":114},{"x":-40.8,"y":116},{"x":-40.1,"y":118},{"x":-40.7,"y":120},{"x":-40.2,"y":122},
{"x":-38.5,"y":99.4},{"x":-39,"y":101.4},{"x":-38.3,"y":103.4},{"x":-38.9,"y":105.4},{"x":-38.4,"y":107.4},{"x":-39.1,"y":109.4},{"x":-38.6,"y":111.4},{"x":-38.8,"y":113.4},{"x":-38.5,"y":115.4},{"x":-39,"y":117.4},{"x":-38.3,"y":119.4},{"x":-38.9,"y":121.4},{"x":-38.4,"y":123.4},
{"x":-36.7,"y":99.6},{"x":-37.2,"y":101.6},{"x":-36.5,"y":103.6},{"x":-37.1,"y":105.6},{"x":-36.6,"y":107.6},{"x":-37.3,"y":109.6},{"x":-36.8,"y":111.6},{"x":-37,"y":113.6},{"x":-36.7,"y":115.6},{"x":-37.2,"y":117.6},{"x":-36.5,"y":119.6},{"x":-37.1,"y":121.6},{"x":-36.6,"y":123.6},
{"x":-34.9,"y":101.4},{"x":-35.4,"y":103.4},{"x":-34.7,"y":105.4},{"x":-35.3,"y":107.4},{"x":-34.8,"y":109.4},{"x":-35.5,"y":111.4},{"x":-35,"y":113.4},{"x":-35.2,"y":115.4},{"x":-34.9,"y":117.4},{"x":-35.4,"y":119.4},{"x":-34.7,"y":121.4},{"x":-35.3,"y":123.4},
{"x":-33.1,"y":100.4},{"x":-33.6,"y":102.4},{"x":-32.9,"y":104.4},{"x":-33.5,"y":106.4},{"x":-33,"y":108.4},{"x":-33.7,"y":110.4},{"x":-33.2,"y":112.4},{"x":-33.4,"y":114.4},{"x":-33.1,"y":116.4},{"x":-33.6,"y":118.4},{"x":-32.9,"y":120.4},{"x":-33.5,"y":122.4},
{"x":-31.3,"y":101},{"x":-31.8,"y":103},{"x":-31.1,"y":105},{"x":-31.7,"y":107},{"x":-31.2,"y":109},{"x":-31.9,"y":111},{"x":-31.4,"y":113},{"x":-31.6,"y":115},{"x":-31.3,"y":117},{"x":-31.8,"y":119},{"x":-31.1,"y":121},
{"x":-29.5,"y":103.4},{"x":-30,"y":105.4},{"x":-29.3,"y":107.4},{"x":-29.9,"y":109.4},{"x":-29.4,"y":111.4},{"x":-30.1,"y":113.4},{"x":-29.6,"y":115.4},{"x":-29.8,"y":117.4},{"x":-29.5,"y":119.4},
{"x":22.5,"y":106.2},{"x":22,"y":108.6},{"x":22.7,"y":111},{"x":22.1,"y":113.4},{"x":22.6,"y":115.8},{"x":21.9,"y":118.2},{"x":22.4,"y":120.6},{"x":22.2,"y":123},{"x":22.5,"y":125.4},{"x":22,"y":127.8},{"x":22.7,"y":130.2},{"x":22.1,"y":132.6},
{"x":24.3,"y":106.2},{"x":23.8,"y":108.6},{"x":24.5,"y":111},{"x":23.9,"y":113.4},{"x":24.4,"y":115.8},{"x":23.7,"y":118.2},{"x":24.2,"y":120.6},{"x":24,"y":123},{"x":24.3,"y":125.4},{"x":23.8,"y":127.8},{"x":24.5,"y":130.2},{"x":23.9,"y":132.6},{"x":24.4,"y":135},
{"x":26.1,"y":106.4},{"x":25.6,"y":108.8},{"x":26.3,"y":111.2},{"x":25.7,"y":113.6},{"x":26.2,"y":116},{"x":25.5,"y":118.4},{"x":26,"y":120.8},{"x":25.8,"y":123.2},{"x":26.1,"y":125.6},{"x":25.6,"y":128},{"x":26.3,"y":130.4},{"x":25.7,"y":132.8},{"x":26.2,"y":135.2},{"x":25.5,"y":137.6},
{"x":27.9,"y":106.4},{"x":27.4,"y":108.8},{"x":28.1,"y":111.2},{"x":27.5,"y":113.6},{"x":28,"y":116},{"x":27.3,"y":118.4},{"x":27.8,"y":120.8},{"x":27.6,"y":123.2},{"x":27.9,"y":125.6},{"x":27.4,"y":128},{"x":28.1,"y":130.4},{"x":27.5,"y":132.8},{"x":28,"y":135.2},{"x":27.3,"y":137.6},{"x":27.8,"y":139.8},
{"x":29.7,"y":106.6},{"x":29.2,"y":109},{"x":29.9,"y":111.4},{"x":29.3,"y":113.8},{"x":29.8,"y":116.2},{"x":29.1,"y":118.6},{"x":29.6,"y":121},{"x":29.4,"y":123.4},{"x":29.7,"y":125.8},{"x":29.2,"y":128.2},{"x":29.9,"y":130.6},{"x":29.3,"y":133},{"x":29.8,"y":135.4},{"x":29.1,"y":137.8},
{"x":31.5,"y":106.6},{"x":31,"y":109},{"x":31.7,"y":111.4},{"x":31.1,"y":113.8},{"x":31.6,"y":116.2},{"x":30.9,"y":118.6},{"x":31.4,"y":121},{"x":31.2,"y":123.4},{"x":31.5,"y":125.8},{"x":31,"y":128.2},{"x":31.7,"y":130.6},{"x":31.1,"y":133},{"x":31.6,"y":135.4},{"x":30.9,"y":137.8},
{"x":33.3,"y":105.8},{"x":32.8,"y":108.2},{"x":33.5,"y":110.6},{"x":32.9,"y":113},{"x":33.4,"y":115.4},{"x":32.7,"y":117.8},{"x":33.2,"y":120.2},{"x":33,"y":122.6},{"x":33.3,"y":125},{"x":32.8,"y":127.4},{"x":33.5,"y":129.8},{"x":32.9,"y":132.2},{"x":33.4,"y":134.6},{"x":32.7,"y":137},{"x":33.2,"y":139.4},
{"x":35.1,"y":106.2},{"x":34.6,"y":108.6},{"x":35.3,"y":111},{"x":34.7,"y":113.4},{"x":35.2,"y":115.8},{"x":34.5,"y":118.2},{"x":35,"y":120.6},{"x":34.8,"y":123},{"x":35.1,"y":125.4},{"x":34.6,"y":127.8},{"x":35.3,"y":130.2},{"x":34.7,"y":132.6},{"x":35.2,"y":135},{"x":34.5,"y":137.4},{"x":35,"y":139.8},{"x":34.8,"y":142.2},
{"x":36.9,"y":105.6},{"x":36.4,"y":108},{"x":37.1,"y":110.4},{"x":36.5,"y":112.8},{"x":37,"y":115.2},{"x":36.3,"y":117.6},{"x":36.8,"y":120},{"x":36.6,"y":122.4},{"x":36.9,"y":124.8},{"x":36.4,"y":127.2},{"x":37.1,"y":129.6},{"x":36.5,"y":132},{"x":37,"y":134.4},{"x":36.3,"y":136.8},{"x":36.8,"y":139.2},{"x":36.6,"y":141.6},{"x":36.9,"y":144},
{"x":38.7,"y":106.4},{"x":38.2,"y":108.8},{"x":38.9,"y":111.2},{"x":38.3,"y":113.6},{"x":38.8,"y":116},{"x":38.1,"y":118.4},{"x":38.6,"y":120.8},{"x":38.4,"y":123.2},{"x":38.7,"y":125.6},{"x":38.2,"y":128},{"x":38.9,"y":130.4},{"x":38.3,"y":132.8},{"x":38.8,"y":135.2},{"x":38.1,"y":137.6},{"x":38.6,"y":140},{"x":38.4,"y":142.4},{"x":38.7,"y":144.8},{"x":38.2,"y":147.2},
{"x":40.5,"y":105.8},{"x":40,"y":108.2},{"x":40.7,"y":110.6},{"x":40.1,"y":113},{"x":40.6,"y":115.4},{"x":39.9,"y":117.8},{"x":40.4,"y":120.2},{"x":40.2,"y":122.6},{"x":40.5,"y":125},{"x":40,"y":127.4},{"x":40.7,"y":129.8},{"x":40.1,"y":132.2},{"x":40.6,"y":134.6},{"x":39.9,"y":137},{"x":40.4,"y":139.4},{"x":40.2,"y":141.8},{"x":40.5,"y":144.2},{"x":40,"y":146.6},{"x":40.7,"y":149},{"x":40.1,"y":151.4},
{"x":42.3,"y":106.6},{"x":41.8,"y":109},{"x":42.5,"y":111.4},{"x":41.9,"y":113.8},{"x":42.4,"y":116.2},{"x":41.7,"y":118.6},{"x":42.2,"y":121},{"x":42,"y":123.4},{"x":42.3,"y":125.8},{"x":41.8,"y":128.2},{"x":42.5,"y":130.6},{"x":41.9,"y":133},{"x":42.4,"y":135.4},{"x":41.7,"y":137.8},{"x":42.2,"y":140.2},{"x":42,"y":142.6},{"x":42.3,"y":145},{"x":41.8,"y":147.4},{"x":42.5,"y":149.8},{"x":41.9,"y":152.2},{"x":42.4,"y":154.6},
{"x":44.1,"y":105.8},{"x":43.6,"y":108.2},{"x":44.3,"y":110.6},{"x":43.7,"y":113},{"x":44.2,"y":115.4},{"x":43.5,"y":117.8},{"x":44,"y":120.2},{"x":43.8,"y":122.6},{"x":44.1,"y":125},{"x":43.6,"y":127.4},{"x":44.3,"y":129.8},{"x":43.7,"y":132.2},{"x":44.2,"y":134.6},{"x":43.5,"y":137},{"x":44,"y":139.4},{"x":43.8,"y":141.8},{"x":44.1,"y":144.2},{"x":43.6,"y":146.6},{"x":44.3,"y":149},{"x":43.7,"y":151.4},{"x":44.2,"y":153.8},{"x":43.5,"y":156.2},{"x":44,"y":158.6},
{"x":45.9,"y":107.2},{"x":45.4,"y":109.6},{"x":46.1,"y":112},{"x":45.5,"y":114.4},{"x":46,"y":116.8},{"x":45.3,"y":119.2},{"x":45.8,"y":121.6},{"x":45.6,"y":124},{"x":45.9,"y":126.4},{"x":45.4,"y":128.8},{"x":46.1,"y":131.2},{"x":45.5,"y":133.6},{"x":46,"y":136},{"x":45.3,"y":138.4},{"x":45.8,"y":140.8},{"x":45.6,"y":143.2},{"x":45.9,"y":145.6},{"x":45.4,"y":148},{"x":46.1,"y":150.4},{"x":45.5,"y":152.8},{"x":46,"y":155.2},{"x":45.3,"y":157.6},{"x":45.8,"y":160},{"x":45.6,"y":162.4},
{"x":47.7,"y":108.6},{"x":47.2,"y":111},{"x":47.9,"y":113.4},{"x":47.3,"y":115.8},{"x":47.8,"y":118.2},{"x":47.1,"y":120.6},{"x":47.6,"y":123},{"x":47.4,"y":125.4},{"x":47.7,"y":127.8},{"x":47.2,"y":130.2},{"x":47.9,"y":132.6},{"x":47.3,"y":135},{"x":47.8,"y":137.4},{"x":47.1,"y":139.8},{"x":47.6,"y":142.2},{"x":47.4,"y":144.6},{"x":47.7,"y":147},{"x":47.2,"y":149.4},{"x":47.9,"y":151.8},{"x":47.3,"y":154.2},{"x":47.8,"y":156.6},{"x":47.1,"y":159},{"x":47.6,"y":161.4},{"x":47.4,"y":163.8},
{"x":49.5,"y":110.2},{"x":49,"y":112.6},{"x":49.7,"y":115},{"x":49.1,"y":117.4},{"x":49.6,"y":119.8},{"x":48.9,"y":122.2},{"x":49.4,"y":124.6},{"x":49.2,"y":127},{"x":49.5,"y":129.4},{"x":49,"y":131.8},{"x":49.7,"y":134.2},{"x":49.1,"y":136.6},{"x":49.6,"y":139},{"x":48.9,"y":141.4},{"x":49.4,"y":143.8},{"x":49.2,"y":146.2},{"x":49.5,"y":148.6},{"x":49,"y":151},{"x":49.7,"y":153.4},{"x":49.1,"y":155.8},{"x":49.6,"y":158.2},{"x":48.9,"y":160.6},{"x":49.4,"y":163},{"x":49.2,"y":165.4},{"x":49.5,"y":167.8},
{"x":51.3,"y":113.2},{"x":50.8,"y":115.6},{"x":51.5,"y":118},{"x":50.9,"y":120.4},{"x":51.4,"y":122.8},{"x":50.7,"y":125.2},{"x":51.2,"y":127.6},{"x":51,"y":130},{"x":51.3,"y":132.4},{"x":50.8,"y":134.8},{"x":51.5,"y":137.2},{"x":50.9,"y":139.6},{"x":51.4,"y":142},{"x":50.7,"y":144.4},{"x":51.2,"y":146.8},{"x":51,"y":149.2},{"x":51.3,"y":151.6},{"x":50.8,"y":154},{"x":51.5,"y":156.4},{"x":50.9,"y":158.8},{"x":51.4,"y":161.2},{"x":50.7,"y":163.6},{"x":51.2,"y":166},{"x":51,"y":168.4},
{"x":53.1,"y":116.2},{"x":52.6,"y":118.6},{"x":53.3,"y":121},{"x":52.7,"y":123.4},{"x":53.2,"y":125.8},{"x":52.5,"y":128.2},{"x":53,"y":130.6},{"x":52.8,"y":133},{"x":53.1,"y":135.4},{"x":52.6,"y":137.8},{"x":53.3,"y":140.2},{"x":52.7,"y":142.6},{"x":53.2,"y":145},{"x":52.5,"y":147.4},{"x":53,"y":149.8},{"x":52.8,"y":152.2},{"x":53.1,"y":154.6},{"x":52.6,"y":157},{"x":53.3,"y":159.4},{"x":52.7,"y":161.8},{"x":53.2,"y":164.2},{"x":52.5,"y":166.6},{"x":53,"y":169},
{"x":54.9,"y":119.2},{"x":54.4,"y":121.6},{"x":55.1,"y":124},{"x":54.5,"y":126.4},{"x":55,"y":128.8},{"x":54.3,"y":131.2},{"x":54.8,"y":133.6},{"x":54.6,"y":136},{"x":54.9,"y":138.4},{"x":54.4,"y":140.8},{"x":55.1,"y":143.2},{"x":54.5,"y":145.6},{"x":55,"y":148},{"x":54.3,"y":150.4},{"x":54.8,"y":152.8},{"x":54.6,"y":155.2},{"x":54.9,"y":157.6},{"x":54.4,"y":160},{"x":55.1,"y":162.4},{"x":54.5,"y":164.8},{"x":55,"y":167.2},{"x":54.3,"y":169.6},
{"x":56.7,"y":122.2},{"x":56.2,"y":124.6},{"x":56.9,"y":127},{"x":56.3,"y":129.4},{"x":56.8,"y":131.8},{"x":56.1,"y":134.2},{"x":56.6,"y":136.6},{"x":56.4,"y":139},{"x":56.7,"y":141.4},{"x":56.2,"y":143.8},{"x":56.9,"y":146.2},{"x":56.3,"y":148.6},{"x":56.8,"y":151},{"x":56.1,"y":153.4},{"x":56.6,"y":155.8},{"x":56.4,"y":158.2},{"x":56.7,"y":160.6},{"x":56.2,"y":163},{"x":56.9,"y":165.4},{"x":56.3,"y":167.8},{"x":56.8,"y":170.2},
{"x":58.5,"y":125.4},{"x":58,"y":127.8},{"x":58.7,"y":130.2},{"x":58.1,"y":132.6},{"x":58.6,"y":135},{"x":57.9,"y":137.4},{"x":58.4,"y":139.8},{"x":58.2,"y":142.2},{"x":58.5,"y":144.6},{"x":58,"y":147},{"x":58.7,"y":149.4},{"x":58.1,"y":151.8},{"x":58.6,"y":154.2},{"x":57.9,"y":156.6},{"x":58.4,"y":159},{"x":58.2,"y":161.4},{"x":58.5,"y":163.8},{"x":58,"y":166.2},{"x":58.7,"y":168.6},{"x":58.1,"y":171},
{"x":60.3,"y":128.8},{"x":59.8,"y":131.2},{"x":60.5,"y":133.6},{"x":59.9,"y":136},{"x":60.4,"y":138.4},{"x":59.7,"y":140.8},{"x":60.2,"y":143.2},{"x":60,"y":145.6},{"x":60.3,"y":148},{"x":59.8,"y":150.4},{"x":60.5,"y":152.8},{"x":59.9,"y":155.2},{"x":60.4,"y":157.6},{"x":59.7,"y":160},{"x":60.2,"y":162.4},{"x":60,"y":164.8},{"x":60.3,"y":167.2},{"x":59.8,"y":169.6},{"x":60.5,"y":172},
{"x":62.1,"y":131.8},{"x":61.6,"y":134.2},{"x":62.3,"y":136.6},{"x":61.7,"y":139},{"x":62.2,"y":141.4},{"x":61.5,"y":143.8},{"x":62,"y":146.2},{"x":61.8,"y":148.6},{"x":62.1,"y":151},{"x":61.6,"y":153.4},{"x":62.3,"y":155.8},{"x":61.7,"y":158.2},{"x":62.2,"y":160.6},{"x":61.5,"y":163},{"x":62,"y":165.4},{"x":61.8,"y":167.8},{"x":62.1,"y":170.2},{"x":61.6,"y":172.6},{"x":62.3,"y":174.8},
{"x":63.8,"y":137.4},{"x":63.3,"y":139.8},{"x":64,"y":142.2},{"x":63.4,"y":144.6},{"x":63.9,"y":147},{"x":63.2,"y":149.4},{"x":63.7,"y":151.8},{"x":63.5,"y":154.2},{"x":63.8,"y":156.6},{"x":63.3,"y":159},{"x":64,"y":161.4},{"x":63.4,"y":163.8},{"x":63.9,"y":166.2},{"x":63.2,"y":168.6},{"x":63.7,"y":171},{"x":63.5,"y":173.4}
],
"blue":[
{"x":-65,"y":110.6},{"x":-60,"y":110.6},{"x":-55,"y":110.73},{"x":-50,"y":110.99},{"x":-45,"y":111.39},{"x":-40,"y":111.89},{"x":-35,"y":112.56},{"x":-30,"y":113.35},{"x":-25,"y":114.25},{"x":-20,"y":115.3},{"x":-15,"y":116.46},{"x":-10,"y":117.77},{"x":-5,"y":119.19},{"x":0,"y":120.76},{"x":5,"y":122.45},{"x":10,"y":124.27},{"x":15,"y":126.22},{"x":20,"y":128.3},{"x":25,"y":130.51},{"x":30,"y":132.85},{"x":35,"y":135.32},{"x":40,"y":137.91},{"x":45,"y":140.65},{"x":50,"y":143.51},{"x":55,"y":146.49},{"x":60,"y":149.62},{"x":64,"y":152.2}
],
"red":[
{"x":-65,"y":96.5},{"x":-64,"y":99.4},{"x":-63,"y":102.6},{"x":-62,"y":105.2},{"x":-61,"y":107.4},{"x":-60,"y":109.3},{"x":-59,"y":110.9},{"x":-58,"y":112.2},{"x":-57,"y":113.1},{"x":-56,"y":113.8},{"x":-55,"y":114.2},{"x":-53,"y":114.6},{"x":-51.5,"y":114.6},{"x":-50,"y":114.2},{"x":-48,"y":113.4},{"x":-46,"y":112.2},{"x":-44.7,"y":111.2},{"x":-43,"y":109.7},{"x":-41.6,"y":108.6},{"x":-40,"y":107.4},{"x":-38.4,"y":106.3},{"x":-36.5,"y":105.3},{"x":-35,"y":104.8},{"x":-33,"y":104.45},{"x":-31.2,"y":104.4},{"x":-29,"y":104.7},{"x":-27,"y":105.4},{"x":-25,"y":106.7},{"x":-24,"y":107.9},{"x":-23,"y":109.2},{"x":-22,"y":110.7},{"x":-21,"y":112.2},{"x":-20,"y":113.8},{"x":-18.8,"y":115.5},{"x":-17,"y":118.2},{"x":-15.7,"y":120.1},{"x":-14,"y":123},{"x":-12.6,"y":125.4},{"x":-11,"y":127.8},{"x":-9.5,"y":129.8},{"x":-8,"y":131.8},{"x":-6,"y":133.8},{"x":-4,"y":135.6},{"x":-2,"y":137.1},{"x":0,"y":138.3},{"x":2,"y":139},{"x":4,"y":139.3},{"x":5.5,"y":139.3},{"x":7,"y":139},{"x":9,"y":138.4},{"x":10.5,"y":137.7},{"x":12,"y":136.7},{"x":14,"y":135.5},{"x":15.5,"y":134.3},{"x":17,"y":132.9},{"x":18.5,"y":131.4},{"x":20,"y":129.9},{"x":21.5,"y":128.4},{"x":23,"y":127},{"x":25,"y":125.6},{"x":27,"y":124.4},{"x":29,"y":123.5},{"x":31,"y":123},{"x":32.5,"y":123},{"x":34,"y":123.3},{"x":36,"y":124.2},{"x":38,"y":125.8},{"x":40,"y":127.8},{"x":41.5,"y":130},{"x":43,"y":132.8},{"x":44.5,"y":135.6},{"x":46,"y":138},{"x":48,"y":141},{"x":50,"y":143.9},{"x":52,"y":146.8},{"x":54,"y":149.9},{"x":56,"y":153},{"x":58,"y":155.7},{"x":60,"y":157.5},{"x":62,"y":158.4},{"x":64,"y":158.6}
]
},
"layer":[
{"data":{"name":"pts"},
"mark":{"type":"circle","size":44,"color":"#00ff00","opacity":1},
"encoding":{
"x":{"field":"x","type":"quantitative","scale":{"domain":[-80,80],"nice":false,"zero":false},
"axis":{"orient":"bottom","values":[-80,-60,-40,-20,0,20,40,60,80],"title":"Modified Dip Latitude(deg)","labelPadding":14,"titlePadding":1,"labelExpr":"datum.value < 0 ? '-' + abs(datum.value) : '' + datum.value"}},
"y":{"field":"y","type":"quantitative","scale":{"domain":[90,180],"nice":false,"zero":false},
"axis":{"orient":"left","values":[90,100,110,120,130,140,150,160,170,180],"title":"Optimal F10.7","labelPadding":10,"titlePadding":11}}}},
{"data":{"name":"blue"},
"mark":{"type":"line","color":"#0000ff","strokeWidth":7,"strokeCap":"round","interpolate":"monotone"},
"encoding":{
"x":{"field":"x","type":"quantitative","axis":{"orient":"top","values":[-80,-60,-40,-20,0,20,40,60,80],"labels":false,"title":null}},
"y":{"field":"y","type":"quantitative","axis":{"orient":"right","values":[90,100,110,120,130,140,150,160,170,180],"labels":false,"title":null}}}},
{"data":{"name":"red"},
"mark":{"type":"line","color":"#ff0000","strokeWidth":7,"strokeCap":"round","interpolate":"monotone"},
"encoding":{
"x":{"field":"x","type":"quantitative","axis":null},
"y":{"field":"y","type":"quantitative","axis":null}}}
],
"resolve":{"axis":{"x":"independent","y":"independent"}}
}
